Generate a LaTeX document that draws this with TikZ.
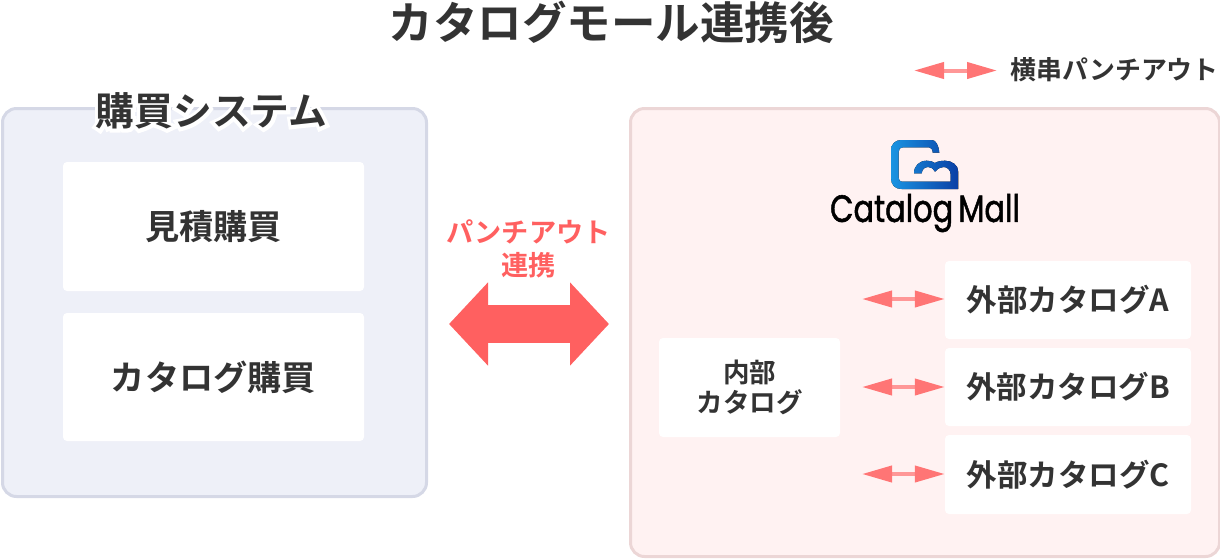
\documentclass[tikz,border=0pt]{standalone}
\usepackage{fontspec}
\usepackage{tikz}
\usetikzlibrary{arrows.meta}
\setmainfont{Noto Sans CJK JP}[BoldFont={Noto Sans CJK JP Bold}]
\newfontfamily\logofont{Poppins}[FakeBold=1.5]
\newfontfamily\halofont{Noto Sans CJK JP Bold}[FakeBold=18]
\definecolor{inkgray}{HTML}{333333}
\definecolor{punchred}{HTML}{FF6060}
\definecolor{punchlight}{HTML}{FF7575}
\definecolor{logolight}{HTML}{1A94E2}
\definecolor{logodark}{HTML}{0A3FA5}
\newcommand{\jpsize}[1]{\fontsize{#1}{#1}\selectfont\bfseries}
\tikzset{
    panelbox/.style = {draw, line width = 3pt, rounded corners = 14pt, anchor = north west},
    whitebox/.style = {fill = white, rounded corners = 4pt, text = inkgray, align = center, inner sep = 0pt},
    punchlink/.style = {line width = 4pt, draw = punchlight!75!white, {Triangle[length = 30pt, width = 16pt, punchlight]}-{Triangle[length = 30pt, width = 16pt, punchlight]}},
}
\begin{document}
\begin{tikzpicture}[x = 1pt, y = -1pt]
    \useasboundingbox (0,0) rectangle (1220,558);
    \node (title) [text = inkgray, font = \jpsize{44.5}] at (611,22) {カタログモール連携後};

    % left panel
    \node (system) [panelbox, fill = {rgb,255:red,238;green,240;blue,248}, draw = {rgb,255:red,213;green,216;blue,230}, minimum width = 424pt, minimum height = 388pt] at (1,107) {};
    \node (systemhalo) [text = white, font = \halofont\fontsize{38.8}{38.8}\selectfont] at (211.5,111) {購買システム};
    \node (systemlabel) [text = inkgray, font = \jpsize{38.8}] at (211.5,111) {購買システム};
    \node (quote) [whitebox, minimum width = 301pt, minimum height = 129pt, font = \jpsize{34.2}] at (213.5,226.5) {見積購買};
    \node (catalog) [whitebox, minimum width = 301pt, minimum height = 128pt, font = \jpsize{34.2}] at (213.5,377) {カタログ購買};

    % right panel
    \node (mall) [panelbox, fill = {rgb,255:red,255;green,242;blue,242}, draw = {rgb,255:red,236;green,214;blue,214}, minimum width = 589pt, minimum height = 448pt] at (629,107) {};
    \node (inner) [whitebox, minimum width = 181pt, minimum height = 99pt, font = \jpsize{26.5}] at (749.5,387.5) {内部\\[4pt]カタログ};
    \node (extA) [whitebox, minimum width = 246pt, minimum height = 78pt, font = \jpsize{30.5}] at (1068,300) {外部カタログA};
    \node (extB) [whitebox, minimum width = 246pt, minimum height = 78pt, font = \jpsize{30.5}] at (1068,387) {外部カタログB};
    \node (extC) [whitebox, minimum width = 246pt, minimum height = 79pt, font = \jpsize{30.5}] at (1068,474.5) {外部カタログC};

    % logo
    \fill [left color = logolight, right color = logodark]
        (939.3,152.7) .. controls (938.5,145) and (936,140) .. (931.7,140) -- (901.7,140)
        .. controls (895,140) and (891,144) .. (891,150.7) -- (891,178)
        .. controls (891,185) and (895,189) .. (901.7,189) -- (958.3,189) -- (958.3,171.7)
        .. controls (958.3,165) and (952,160.7) .. (945,160.7)
        .. controls (941,160.7) and (937,161.5) .. (935,163)
        .. controls (933,161.5) and (930,160.7) .. (926.7,160.7)
        .. controls (919,160.7) and (914,166) .. (914,173.3) -- (921.7,173.3)
        .. controls (922,169) and (925,167) .. (928.3,167)
        .. controls (931,167) and (934,169) .. (935,171.7)
        .. controls (937,169) and (940,167) .. (943.5,167)
        .. controls (947.5,167) and (950.7,170) .. (950.7,175) -- (950.7,181.7) -- (901.7,181.7)
        .. controls (900,181.7) and (898.7,180) .. (898.7,178) -- (898.7,151.7)
        .. controls (898.7,149) and (900,147.3) .. (903,147.3) -- (929,147.3)
        .. controls (931,147.3) and (932.7,149.5) .. (932.7,152.7) -- cycle;
    \node (logotext) [text = black, font = \logofont\fontsize{38}{38}\selectfont, inner sep = 0pt] at (925,213) {\scalebox{0.8}[1]{Catalog\,Mall}};

    % punch out
    \node (punchlabel) [text = punchred, align = center, font = \jpsize{27.2}] at (528.5,249) {パンチアウト\\[6pt]連携};
    \coordinate (bigleft) at (449,324);
    \coordinate (bigright) at (609,324);
    \draw [line width = 38pt, draw = punchred, {Triangle[length = 39pt, width = 81pt]}-{Triangle[length = 39pt, width = 81pt]}] (bigleft) -- (bigright);

    % small arrows
    \coordinate (legendleft) at (914,70.5);
    \coordinate (legendright) at (997,70.5);
    \draw [punchlink] (legendleft) -- (legendright);
    \node (legend) [text = inkgray, font = \jpsize{25.9}, anchor = west, inner sep = 0pt] at (1010,70) {横串パンチアウト};
    \foreach \name/\ypos in {A/299, B/387, C/474} {
        \coordinate (link\name) at (862,\ypos);
        \draw [punchlink] (link\name) -- (link\name -| ext\name.west);
    }
\end{tikzpicture}
\end{document}
